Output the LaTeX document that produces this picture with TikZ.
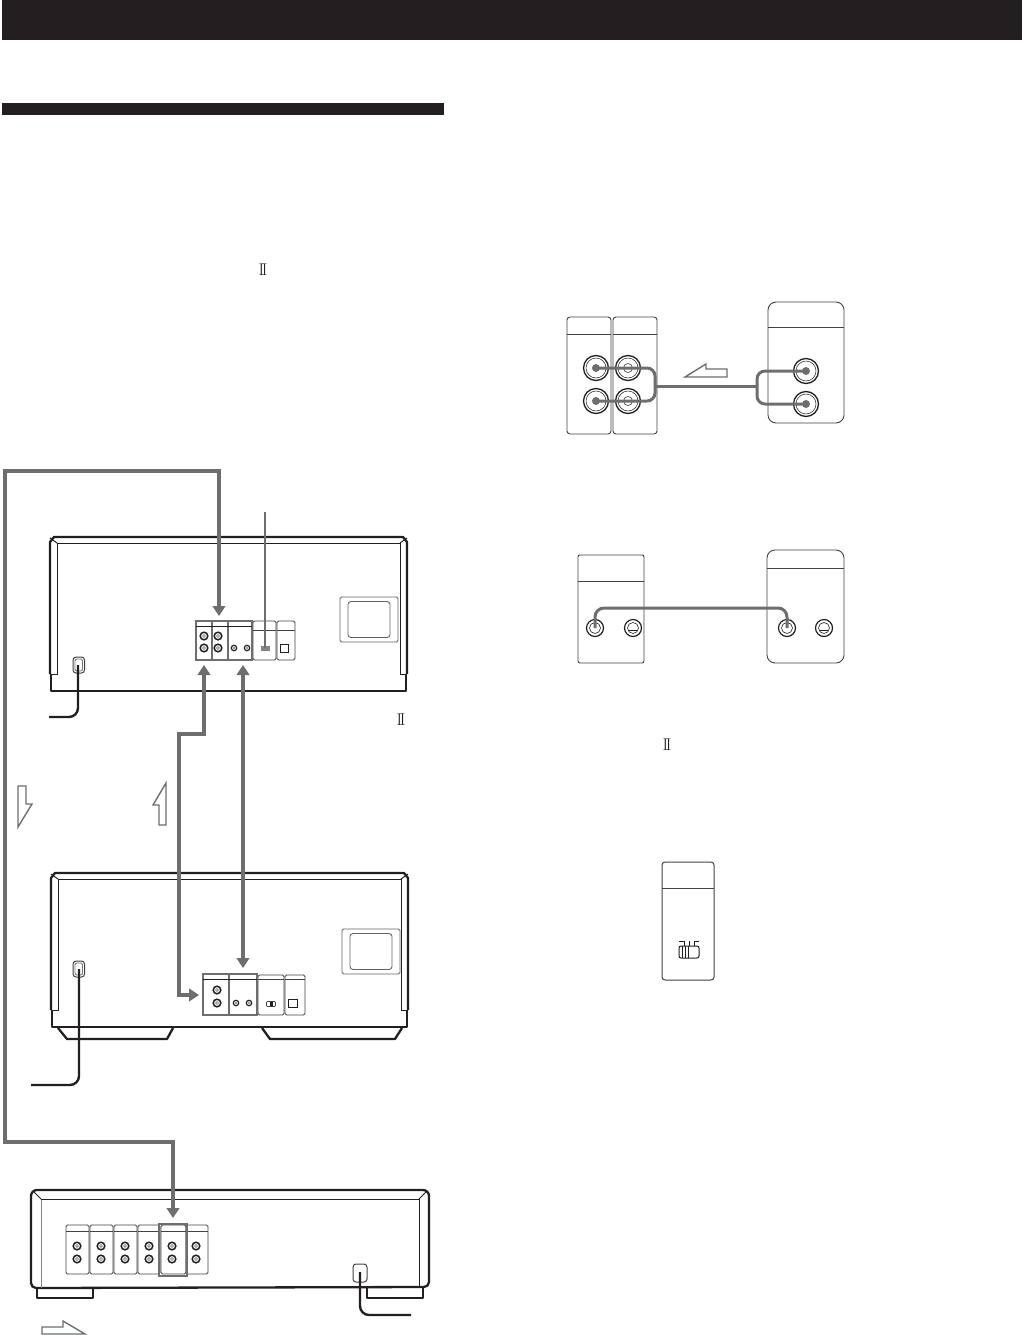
\documentclass[tikz,border=0pt]{standalone}
\usetikzlibrary{arrows.meta}
\definecolor{inkdark}{HTML}{231F20}
\definecolor{cablegray}{HTML}{6D6E70}
\tikzset{
	casethick/.style={draw=inkdark,line width=2.3pt,line join=round},
	casethin/.style={draw=inkdark,line width=1pt},
	panelbox/.style={draw=inkdark!85,line width=.9pt,rounded corners=1.5pt},
	markbox/.style={draw=cablegray,line width=2.2pt},
	cable/.style={draw=cablegray,line width=4.8pt,line join=miter},
	cabletip/.style={cable,-{Triangle[width=12.5pt,length=10pt]}},
	twotip/.style={cable,{Triangle[width=12.5pt,length=10pt]}-{Triangle[width=12.5pt,length=10pt]}},
	wire/.style={draw=cablegray,line width=3pt,rounded corners=8pt},
	cord/.style={draw=inkdark,line width=2.4pt,rounded corners=9pt},
	hollowarrow/.style={draw=cablegray,line width=1.4pt,fill=white,line join=miter},
	romantwo/.style={inner sep=0pt,text=inkdark,font=\fontsize{17}{17}\selectfont}
}
\begin{document}
\begin{tikzpicture}[x=1pt,y=-1pt]
	\useasboundingbox (0,0) rectangle (1022,1335);

	% Bandes de capcalera
	\fill[inkdark] (2,0) rectangle (1022,40);
	\fill[inkdark] (2,103) rectangle (444,115);

	\node[romantwo] (markA) at (263,270) {I\kern-2.4pt I};
	\node[romantwo] (markB) at (401,720) {I\kern-2.4pt I};
	\node[romantwo] (markC) at (667,745) {I\kern-2.4pt I};

	% Dues unitats posteriors
	\foreach \dx/\dy in {0/0,1/336} {
		\begin{scope}[shift={(\dx,\dy)}]
			\draw[casethick] (50,674) -- (50,542) -- (54,537) -- (403,537) -- (407,542) -- (407,674);
			\draw[casethick] (51,674) -- (51,691) -- (406,691) -- (406,674);
			\draw[casethin] (50,674) -- (57,674) -- (57,543) -- (400,543) -- (400,674) -- (407,674);
			\draw[casethin] (50,538) -- (57,543);
			\draw[casethin] (407,538) -- (400,543);
		\end{scope}
	}
	\draw[casethick] (58,1028) -- (67,1039) -- (167,1039) -- (173,1028);
	\draw[casethick] (262,1028) -- (270,1039) -- (395,1039) -- (402,1028);

	\foreach \wx/\wy in {340/597,342/929} {
		\draw[panelbox,draw=inkdark!70] (\wx,\wy) rectangle ++(58,45);
		\draw[panelbox,draw=inkdark!70,rounded corners=3pt] (\wx+8,\wy+4.5) rectangle ++(42,36);
	}

	% Endolls i cables de xarxa
	\foreach \sx/\sy in {73/657,73/961} {
		\draw[panelbox,rounded corners=3pt,line width=1pt] (\sx,\sy) rectangle ++(11.5,16);
		\draw[panelbox,rounded corners=2pt,draw=inkdark!60] (\sx+2,\sy+2) rectangle ++(7.5,12);
	}
	\draw[panelbox,rounded corners=3pt,line width=1pt] (353,1264) rectangle (367,1282);

	\coordinate (plugA) at (78,665);
	\coordinate (plugB) at (79,969);
	\coordinate (plugC) at (360,1272);
	\coordinate (cordA) at (49,717);
	\coordinate (cordB) at (31,1085);
	\coordinate (cordC) at (411,1315);
	\draw[cord] (plugA) -- (78,717) -- (cordA);
	\draw[cord] (plugB) -- (79,1085) -- (cordB);

	% Panell de la primera unitat
	\foreach \xa/\xb/\head in {253/276/630,277/295/630} {
		\draw[panelbox] (\xa,621) rectangle (\xb,660);
		\draw[panelbox] (\xa,\head) -- (\xb,\head);
	}
	\draw[markbox] (196,621) rectangle (252,660);
	\draw[markbox] (212,621) -- (212,660);
	\draw[markbox] (228,621) -- (228,660);
	\draw[casethin] (196,626) -- (252,626);
	\draw[casethin] (280,644) rectangle (288,652);
	\fill[inkdark!55] (261,646) rectangle (270,651);

	% Panell de la segona unitat
	\foreach \xa/\xb in {258/284,285/305} {
		\draw[panelbox] (\xa,975) rectangle (\xb,1015);
		\draw[panelbox] (\xa,979) -- (\xb,979);
	}
	\draw[markbox] (203,974) rectangle (257,1015);
	\draw[markbox] (229,974) -- (229,1015);
	\draw[casethin] (203,979) -- (257,979);
	\draw[casethin] (288,999) rectangle (297,1007);
	\draw[panelbox,line width=.7pt,rounded corners=1pt] (266.5,1001.5) rectangle (275.5,1006.5);
	\fill[inkdark] (270,1002) rectangle (272.5,1006);

	% Unitat inferior
	\draw[casethick] (31,1284) -- (31,1196) arc (180:270:6) -- (423,1190) arc (270:360:6) -- (429,1282) arc (0:90:5) -- (36,1288) arc (90:180:5);
	\draw[draw=inkdark!55,line width=1pt] (41,1199) -- (41,1288);
	\draw[casethin,line width=.8pt] (41,1199) -- (419,1199) -- (419,1288);
	\draw[casethin,line width=.8pt] (33,1191) -- (41,1199);
	\draw[casethin,line width=.8pt] (427,1191) -- (419,1199);
	\draw[casethick] (37,1288) -- (37,1298) -- (93,1298) -- (93,1288);
	\draw[casethick] (367,1288) -- (367,1298) -- (423,1298) -- (423,1288);
	\draw[cord] (plugC) -- (360,1315) -- (cordC);
	\foreach \xa/\xb in {66/89,90/113,114/137,138/160,161/186,186/208} {
		\draw[panelbox] (\xa,1225) rectangle (\xb,1274);
		\draw[panelbox] (\xa,1231) -- (\xb,1231);
	}
	\draw[markbox] (159,1224) rectangle (187,1276);

	% Jacks petits
	\foreach \x/\y in {204/636,204/648,218/636,218/648,217/990,217/1003,
			77/1246,77/1259,101/1246,101/1259,125/1246,125/1259,
			149/1246,149/1259,172/1246,172/1259,196/1246,196/1259} {
		\draw[inkdark,line width=1.5pt] (\x,\y) circle (3.8);
		\draw[inkdark!70,line width=.6pt] (\x,\y) circle (1.5);
	}
	\foreach \x/\y in {234/648,247/648,236/1003,249/1003} {
		\draw[inkdark,line width=1.2pt] (\x,\y) circle (2.7);
		\fill[inkdark!60] (\x,\y) circle (1.1);
	}

	% Cables principals
	\coordinate (railtop) at (5,471);
	\coordinate (railbot) at (5,1142);
	\coordinate (inA) at (219,616);
	\coordinate (inC) at (173,1218);
	\coordinate (linkup) at (204,665);
	\coordinate (stepA) at (204,734);
	\coordinate (stepB) at (179,734);
	\coordinate (stepC) at (179,995);
	\coordinate (linkin) at (199,995);
	\coordinate (ctrlup) at (243,665);
	\coordinate (ctrldown) at (243,968);
	\draw[twotip] (inA) -- (inA |- railtop) -- (railtop) -- (railbot) -- (inC |- railbot) -- (inC);
	\draw[twotip] (linkup) -- (stepA) -- (stepB) -- (stepC) -- (linkin);
	\draw[twotip] (ctrlup) -- (ctrldown);

	% Fil cap al commutador
	\coordinate (switchtop) at (265,512);
	\coordinate (switchpin) at (265,648);
	\draw[draw=cablegray,line width=1.8pt] (switchtop) -- (switchpin);

	% Fletxes buides
	\draw[hollowarrow] (18,786) -- (26,786) -- (26,804) -- (32,804) -- (18,827) -- cycle;
	\draw[hollowarrow] (166,783) -- (153,805) -- (159,805) -- (159,825) -- (166,825) -- cycle;
	\draw[hollowarrow] (42,1327) -- (63,1327) -- (63,1321) -- (85,1334) -- (42,1334) -- cycle;
	\draw[hollowarrow] (685,377) -- (706,364) -- (706,369) -- (727,369) -- (727,377) -- cycle;

	% Detall superior dret
	\foreach \xa/\xb in {567/611,613/657} {
		\draw[panelbox,rounded corners=3pt] (\xa,317) rectangle (\xb,434);
		\draw[panelbox] (\xa,334) -- (\xb,334);
	}
	\draw[panelbox,rounded corners=8pt] (768,302) rectangle (844,423);
	\draw[panelbox] (768,327) -- (844,327);
	\coordinate (jackA) at (596,368);
	\coordinate (jackB) at (596,401);
	\coordinate (jackC) at (806,371);
	\coordinate (jackD) at (806,404);
	\coordinate (jackE) at (628,368);
	\coordinate (jackF) at (628,401);
	\foreach \J in {jackA,jackB,jackC,jackD,jackE,jackF} {
		\draw[inkdark,line width=1.3pt] (\J) circle (12.5);
		\draw[inkdark,line width=.5pt] (\J) circle (10);
	}
	\foreach \J in {jackE,jackF} {
		\draw[inkdark,line width=.5pt] (\J) circle (4.5);
	}
	\coordinate (wireL) at (655,386);
	\coordinate (wireR) at (757,386);
	\draw[wire] (jackA) -- (655,368) -- (wireL);
	\draw[wire] (jackB) -- (655,401) -- (wireL);
	\draw[wire] (wireL) -- (wireR);
	\draw[wire] (jackC) -- (757,371) -- (wireR);
	\draw[wire] (jackD) -- (757,404) -- (wireR);
	\foreach \J in {jackA,jackB,jackC,jackD} {
		\fill[cablegray] (\J) circle (4);
	}

	% Detall central dret
	\draw[panelbox,rounded corners=2pt] (578,555) rectangle (644,663);
	\draw[panelbox] (578,581) -- (644,581);
	\draw[panelbox,rounded corners=8pt] (767,550) rectangle (844,663);
	\draw[panelbox] (767,568) -- (844,568);
	\coordinate (plugL) at (595,628);
	\coordinate (plugR) at (787,628);
	\coordinate (plugM) at (633,628);
	\coordinate (plugN) at (824,628);
	\foreach \J in {plugL,plugM,plugR,plugN} {
		\draw[inkdark,line width=1.2pt] (\J) circle (8.5);
		\draw[inkdark,line width=.6pt] (\J) circle (5.5);
	}
	\foreach \x in {633,824} {
		\draw[inkdark,line width=.6pt] (\x-4,630) -- (\x+4,630);
	}
	\draw[wire,rounded corners=9pt] (plugL) -- (595,608) -- (787,608) -- (plugR);

	% Commutador inferior dret
	\draw[panelbox,rounded corners=3pt,line width=1pt] (662,862) rectangle (714,980);
	\draw[panelbox] (662,888) -- (714,888);
	\draw[casethin,rounded corners=2pt] (679,946) rectangle (699,958);
	\draw[casethin] (679,941) -- (684,941) -- (684,946);
	\draw[casethin] (689,941) -- (689,946);
	\draw[casethin] (694,946) -- (694,941) -- (699,941);
	\foreach \x in {682,685,688} {
		\draw[casethin] (\x,946) -- (\x,958);
	}
\end{tikzpicture}
\end{document}
